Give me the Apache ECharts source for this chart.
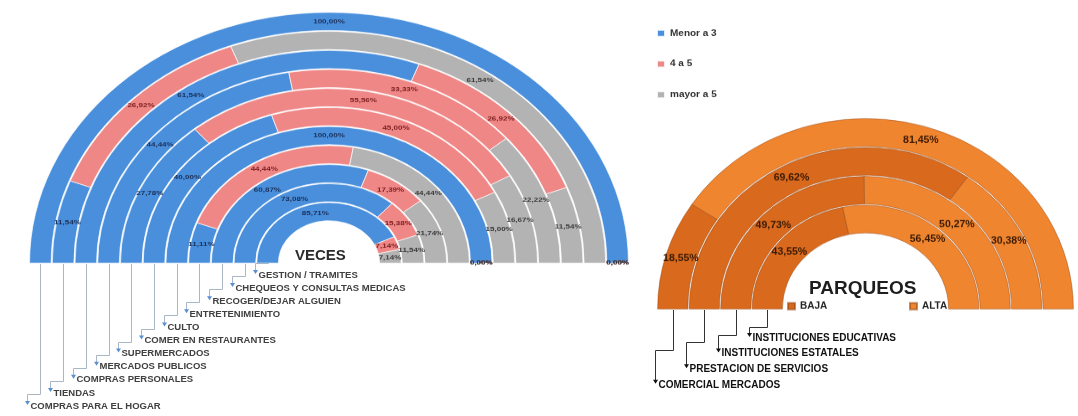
<!DOCTYPE html>
<html>
<head>
<meta charset="utf-8">
<script src="https://cdn.jsdelivr.net/npm/echarts@6/dist/echarts.min.js"></script>
<style>
  html, body { margin: 0; padding: 0; background: #fff; overflow: hidden; }
  #stage { position: relative; width: 1078px; height: 416px; overflow: hidden; }
  .layer { position: absolute; left: 0; top: 0; width: 1078px; transform-origin: 0 0; }
</style>
</head>
<body>
<div id="stage">
  <div id="veces" class="layer"></div>
  <div id="parqueos" class="layer"></div>
  <div id="notes" class="layer" style="height:416px"></div>
</div>
<script>
// ---- VECES: trip frequency by purpose (rings listed from outer to inner) ----
const vecesCategories = [
  'COMPRAS PARA EL HOGAR', 'TIENDAS', 'COMPRAS PERSONALES', 'MERCADOS PUBLICOS',
  'SUPERMERCADOS', 'COMER EN RESTAURANTES', 'CULTO', 'ENTRETENIMIENTO',
  'RECOGER/DEJAR ALGUIEN', 'CHEQUEOS Y CONSULTAS MEDICAS', 'GESTION / TRAMITES'
];
const vecesNames = ['Menor a 3', '4 a 5', 'mayor a 5'];
const menorA3 = [100.00, 11.54, 61.54, 44.44, 27.78, 40.00, 100.00, 11.11, 60.87, 73.08, 85.71];
const de4a5   = [0.00, 26.92, 26.92, 33.33, 55.56, 45.00, 0.00, 44.44, 17.39, 15.38, 7.14];
const mayorA5 = [0.00, 61.54, 11.54, 22.22, 16.67, 15.00, 0.00, 44.44, 21.74, 11.54, 7.14];

// ---- PARQUEOS: parking demand by land use (rings listed from outer to inner) ----
const parqueosCategories = [
  'COMERCIAL MERCADOS', 'PRESTACION DE SERVICIOS', 'INSTITUCIONES ESTATALES', 'INSTITUCIONES EDUCATIVAS'
];
const parqueosNames = ['BAJA', 'ALTA'];
const baja = [18.55, 69.62, 49.73, 43.55];
const alta = [81.45, 30.38, 50.27, 56.45];

// ---- layout of the two half doughnuts (screen pixels) ----
const LEFT  = { cx: 329,   cy: 263, r0: 50,   r1: 300,   sy: 0.837 };
const RIGHT = { cx: 865.5, cy: 309, r0: 82.5, r1: 208.5, sy: 0.916 };

const pct = p => Number(p.value).toFixed(2).replace('.', ',') + '%';

// Half doughnut built on a polar system: 100 % spans the upper half (max 200).
function ringOption(geo, categories, names, values, colors, labelColors, extra) {
  return Object.assign({
    animation: false,
    polar: { center: [geo.cx, geo.cy / geo.sy], radius: [geo.r0, geo.r1] },
    angleAxis: { type: 'value', min: 0, max: 200, startAngle: 180, clockwise: true, show: false },
    radiusAxis: { type: 'category', data: categories, inverse: true, show: false },
    series: names.map((name, i) => ({
      type: 'bar',
      coordinateSystem: 'polar',
      stack: 'total',
      name: name,
      data: values[i],
      barCategoryGap: extra.gap,
      itemStyle: { color: colors[i], borderColor: extra.border, borderWidth: extra.borderWidth },
      label: {
        show: true,
        position: 'middle',
        rotate: 0,
        formatter: pct,
        fontSize: extra.labelSize,
        fontWeight: 'bold',
        fontFamily: 'Liberation Sans, Arial, sans-serif',
        color: labelColors[i]
      }
    }))
  }, extra.more);
}

function squashed(id, geo) {
  const el = document.getElementById(id);
  el.style.height = (416 / geo.sy) + 'px';
  el.style.transform = 'scaleY(' + geo.sy + ')';
  return echarts.init(el, null, { renderer: 'canvas' });
}

// ---- left chart ----
const vecesChart = squashed('veces', LEFT);
vecesChart.setOption(ringOption(
  LEFT, vecesCategories, vecesNames, [menorA3, de4a5, mayorA5],
  ['#4a8fdc', '#f08787', '#b3b3b3'],
  ['#1b2f57', '#7a1e1e', '#3a3a3a'],
  {
    gap: '5%', border: 'rgba(255,255,255,0.85)', borderWidth: 0.8, labelSize: 8,
    more: {
      legend: {
        orient: 'vertical', left: 651, top: 25 / LEFT.sy,
        itemWidth: 8, itemHeight: 8, itemGap: 29 / LEFT.sy - 8, icon: 'rect',
        data: vecesNames,
        textStyle: { fontSize: 10, fontWeight: 'bold', color: '#333', fontFamily: 'Liberation Sans, Arial, sans-serif' }
      }
    }
  }
));

// ---- right chart ----
const parqueosChart = squashed('parqueos', RIGHT);
const legendText = { fontSize: 10, fontWeight: 'bold', color: '#222', fontFamily: 'Liberation Sans, Arial, sans-serif' };
parqueosChart.setOption(ringOption(
  RIGHT, parqueosCategories, parqueosNames, [baja, alta],
  ['#d8691d', '#f0852f'],
  ['#3b1a04', '#3b1a04'],
  {
    gap: '4%', border: 'rgba(150,70,15,0.6)', borderWidth: 0.8, labelSize: 10.5,
    more: {
      legend: [
        { data: ['BAJA'], left: 782, top: 297 / RIGHT.sy, itemWidth: 7, itemHeight: 7, icon: 'rect', textStyle: legendText },
        { data: ['ALTA'], left: 904, top: 297 / RIGHT.sy, itemWidth: 7, itemHeight: 7, icon: 'rect', textStyle: legendText }
      ]
    }
  }
));

// ---- flat layer: titles, leader lines and ring names ----
const notes = echarts.init(document.getElementById('notes'));
const elements = [];

function addLeader(xr, yTop, yBend, xm, yEnd, color, label, textColor, font, arrowColor) {
  elements.push({
    type: 'polyline', silent: true,
    shape: { points: [[xr, yTop], [xr, yBend], [xm, yBend], [xm, yEnd]] },
    style: { stroke: color, lineWidth: 1, fill: null }
  });
  elements.push({
    type: 'polygon', silent: true,
    shape: { points: [[xm - 2.5, yEnd - 3], [xm + 2.5, yEnd - 3], [xm, yEnd + 1]] },
    style: { fill: arrowColor }
  });
  elements.push({
    type: 'text', silent: true, x: xm + 3, y: yEnd + 2,
    style: Object.assign({ text: label, fill: textColor, verticalAlign: 'middle', align: 'left' }, font)
  });
}

// left: one leader per ring, inner ring's name on top
(function () {
  const n = vecesCategories.length;
  const w = (LEFT.r1 - LEFT.r0) / n;
  const font = { fontSize: 9.5, fontWeight: 'bold', fontFamily: 'Liberation Sans, Arial, sans-serif' };
  vecesCategories.forEach((name, k) => {
    const row = n - 1 - k;
    const xr = Math.round(LEFT.cx - LEFT.r1 + (k + 0.5) * w) + 0.5;
    const yText = 277 + 13.1 * row;
    const xm = Math.round(xr - 14) + 0.5;
    addLeader(xr, LEFT.cy + 1, Math.round(yText - 14) + 0.5, xm, yText - 4, '#a9b6c4', name, '#404040', font, '#5b8fd0');
  });
})();

// right: one leader per ring
(function () {
  const n = parqueosCategories.length;
  const w = (RIGHT.r1 - RIGHT.r0) / n;
  const font = { fontSize: 10, fontWeight: 'bold', fontFamily: 'Liberation Sans, Arial, sans-serif' };
  parqueosCategories.forEach((name, k) => {
    const row = n - 1 - k;
    const xr = Math.round(RIGHT.cx - RIGHT.r1 + (k + 0.5) * w) + 0.5;
    const yText = 338 + 15.6 * row;
    const xm = Math.round(xr - 19) + 0.5;
    addLeader(xr, RIGHT.cy + 1, Math.round(327 + 7.7 * row) + 0.5, xm, yText - 2, '#333', name, '#111', font, '#111');
  });
})();

notes.setOption({
  animation: false,
  title: [
    { text: 'VECES', left: 290, top: 243, textStyle: { fontSize: 15, fontWeight: 'bold', color: '#2b2b2b', fontFamily: 'Liberation Sans, Arial, sans-serif' } },
    { text: 'PARQUEOS', left: 804, top: 274, textStyle: { fontSize: 19, fontWeight: 'bold', color: '#1e1e1e', fontFamily: 'Liberation Sans, Arial, sans-serif' } }
  ],
  graphic: elements
});
</script>
</body>
</html>
